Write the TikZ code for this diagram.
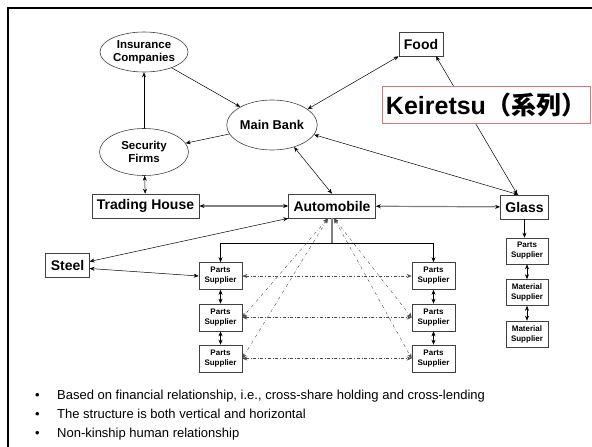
\documentclass[tikz,border=0pt]{standalone}
\usepackage{fontspec}
\setmainfont{Liberation Sans}
\newfontfamily\cjk{Noto Sans CJK JP}
\usetikzlibrary{arrows.meta,shapes.geometric}
\definecolor{keirred}{RGB}{232,112,112}
\tikzset{
	firm/.style={draw=black!75, line width=0.6pt, fill=white, font=\bfseries\fontsize{14}{16}\selectfont, minimum height=24pt, inner xsep=5pt, inner ysep=0pt},
	fin/.style={ellipse, draw=black!75, line width=0.6pt, align=center, font=\bfseries\fontsize{11.5}{13}\selectfont, inner sep=0pt},
	supp/.style={draw=black!75, line width=0.6pt, align=center, font=\bfseries\fontsize{8}{10}\selectfont, minimum width=43pt, minimum height=27pt, inner sep=0pt},
	link/.style={line width=0.5pt},
	crossline/.style={dash dot, line width=0.4pt, black!70},
	bullet/.style={anchor=base west, font=\fontsize{13}{15}\selectfont, inner sep=0pt}
}
\begin{document}
\begin{tikzpicture}[x=1pt, y=-1pt, >={Stealth[length=5pt,width=4pt]}]
	\useasboundingbox (0,0) rectangle (592,447);
	\draw[line width=2.4pt] (8,447) -- (8,8) -- (592,8);
	
	\node[fin, minimum width=88pt, minimum height=40pt] (ins) at (144,52) {Insurance\\Companies};
	\node[fin, minimum width=89pt, minimum height=50pt, font=\bfseries\fontsize{12.8}{14}\selectfont] (mb) at (272,125) {Main Bank};
	\node[fin, minimum width=89pt, minimum height=47pt] (sec) at (144,152) {Security\\Firms};
	\node[firm] (th) at (145.5,206) {Trading House};
	\node[firm] (auto) at (332,206) {Automobile};
	\node[firm] (glass) at (524.5,207) {Glass};
	\node[firm] (food) at (421,44) {Food};
	\node[firm] (steel) at (67.5,265.5) {Steel};
	
	\foreach \i/\y in {1/276,2/317.5,3/358.5} {
		\node[supp] (lps\i) at (220.5,\y) {Parts\\Supplier};
		\node[supp] (rps\i) at (433.5,\y) {Parts\\Supplier};
	}
	\node[supp, minimum width=42pt, minimum height=26pt] (gps) at (527,251) {Parts\\Supplier};
	\node[supp, minimum width=42pt, minimum height=26pt] (gms1) at (527,292.5) {Material\\Supplier};
	\node[supp, minimum width=42pt, minimum height=26pt] (gms2) at (527,334) {Material\\Supplier};
	
	\draw[link,->] (ins) -- (mb);
	\draw[link,->] (mb) -- (sec);
	\draw[link,->] (sec) -- (ins);
	\draw[link,<->] (sec) -- (th);
	\draw[gray, line width=1.2pt, {Stealth[black,length=5pt,width=4pt]}-{Stealth[black,length=5pt,width=4pt]}] (th) -- (auto);
	\draw[gray, line width=1.2pt, {Stealth[black,length=5pt,width=4pt]}-{Stealth[black,length=5pt,width=4pt]}] (auto) -- (glass);
	\draw[link,<->] (mb.24) -- (food.south west);
	\draw[link,<->] (mb.-45) -- (auto.north);
	\draw[link,<->] (mb.-13) -- ([xshift=-6pt]glass.north);
	\draw[link,<->] ([xshift=-7pt]glass.north) -- ([xshift=15pt]food.south);
	\draw[link,<->] (auto.south west) -- ([yshift=4pt]steel.east);
	\draw[link,<->] ([yshift=-3pt]steel.east) -- (lps1.west);
	
	\coordinate (split) at (332,243);
	\draw[gray, line width=1.2pt] (auto.south) -- (split);
	\draw[link,->] (split) -| (lps1.north);
	\draw[link,->] (split) -| (rps1.north);
	
	\foreach \j in {2,3} {
		\draw[crossline,<->] ([xshift=-4pt]auto.south) -- (lps\j.east);
		\draw[crossline,<->] ([xshift=2pt]auto.south) -- (rps\j.west);
	}
	\foreach \j in {1,2,3}
		\draw[crossline,<->] (lps\j) -- (rps\j);
	\foreach \a/\b in {lps1/lps2,lps2/lps3,rps1/rps2,rps2/rps3,gps/gms1,gms1/gms2}
		\draw[link,<->] (\a) -- (\b);
	\draw[link,->] (glass.south) -- (glass.south |- gps.north);
	
	\node[draw=keirred, line width=0.8pt, fill=white, minimum width=208pt, minimum height=37pt, inner sep=2pt, font=\bfseries\fontsize{25}{28}\selectfont] (keir) at (486,104.5) {Keiretsu{\cjk （系列）}};
	
	\foreach \i/\y in {1/399,2/418,3/437}
		\node[bullet] (b\i) at (35,\y) {•};
	\node[bullet] (t1) at (57,399) {Based on financial relationship, i.e., cross-share holding and cross-lending};
	\node[bullet] (t2) at (57,418) {The structure is both vertical and horizontal};
	\node[bullet] (t3) at (57,437) {Non-kinship human relationship};
\end{tikzpicture}
\end{document}
